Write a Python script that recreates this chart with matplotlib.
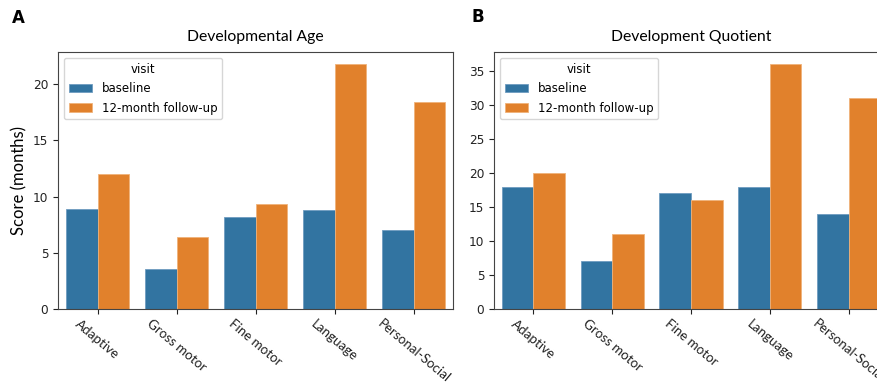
import matplotlib
matplotlib.use("Agg")
import matplotlib.pyplot as plt
import numpy as np

categories = ["Adaptive", "Gross motor", "Fine motor", "Language", "Personal-Social"]
visits = ["baseline", "12-month follow-up"]
age_baseline = [8.87, 3.53, 8.16, 8.78, 7.03]
age_followup = [12.04, 6.40, 9.34, 21.78, 18.44]
dq_baseline = [18, 7, 17, 18, 14]
dq_followup = [20, 11, 16, 36, 31]
colors = ["#3274a1", "#e1812c"]

label_font = "Lato"

fig = plt.figure(figsize=(8.78, 3.85), dpi=100)
ax1 = fig.add_axes([58/878, 76/385, 395/878, 257/385])
ax2 = fig.add_axes([494/878, 76/385, 394/878, 257/385])

def draw(ax, base, follow, title):
    x = np.arange(len(categories))
    w = 0.4
    ax.bar(x - w/2, base, width=w, color=colors[0], label=visits[0],
           edgecolor="#6f9cc0", linewidth=0.6)
    ax.bar(x + w/2, follow, width=w, color=colors[1], label=visits[1],
           edgecolor="#f0b27a", linewidth=0.6)
    ax.set_xlim(-0.5, len(categories) - 0.5)
    ax.set_ylim(0, max(max(base), max(follow)) * 1.05)
    ax.set_xticks(x)
    ax.set_xticklabels(categories, rotation=-40, ha="center",
                       family=label_font, fontsize=9.6)
    ax.tick_params(axis="y", labelsize=8.7, colors="#222222")
    ax.tick_params(axis="x", colors="#222222", pad=2.5)
    ax.set_title(title, family=label_font, fontsize=11.3, pad=8)
    leg = ax.legend(title="visit", loc="upper left", fontsize=8.5,
                    title_fontsize=8.5, labelspacing=0.55)
    for s in ax.spines.values():
        s.set_color("#444444")

draw(ax1, age_baseline, age_followup, "Developmental Age")
draw(ax2, dq_baseline, dq_followup, "Development Quotient")
ax1.set_yticks([0, 5, 10, 15, 20])
ax2.set_yticks([0, 5, 10, 15, 20, 25, 30, 35])
ax1.set_ylabel("Score (months)", family=label_font, fontsize=12)

fig.text(12/878, 1 - 18/385, "A", fontsize=12, fontweight="bold", va="center")
fig.text(472/878, 1 - 17/385, "B", fontsize=12, fontweight="bold", va="center")

fig.savefig("out.png", dpi=100)
